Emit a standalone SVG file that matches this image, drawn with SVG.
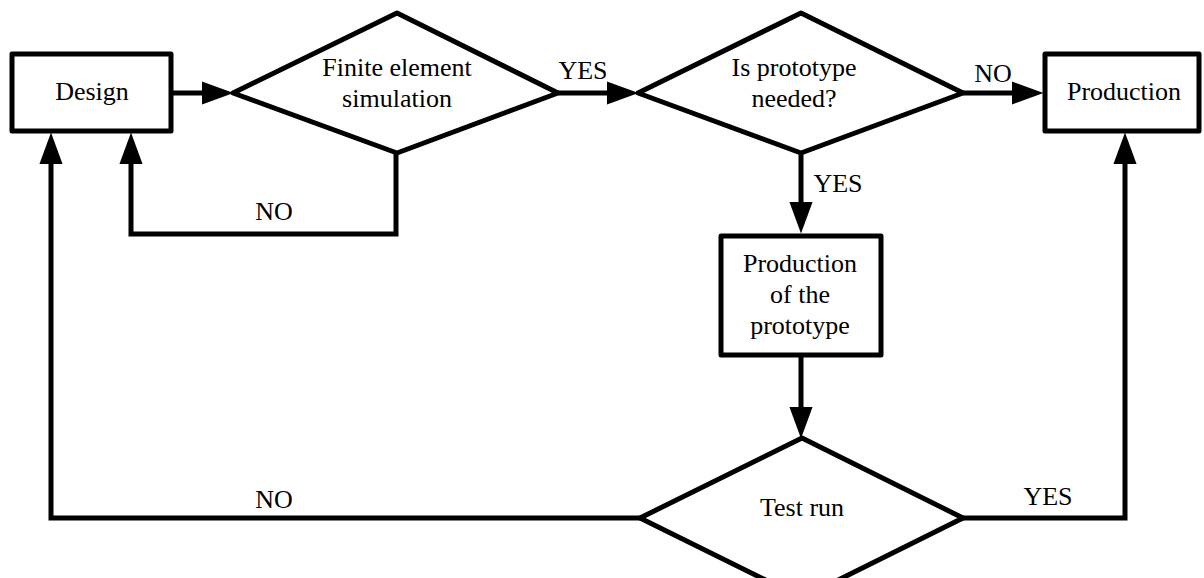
<svg xmlns="http://www.w3.org/2000/svg" width="1204" height="578" viewBox="0 0 1204 578">
  <style>
    .shape { fill: #ffffff; stroke: #000000; stroke-width: 5; stroke-linejoin: round; }
    .conn { fill: none; stroke: #000000; stroke-width: 5; stroke-linejoin: miter; }
    .lbl { font-family: "Liberation Serif", "Times New Roman", serif; font-size: 26px; fill: #000000; text-anchor: middle; }
  </style>
  <defs>
    <marker id="arrow" markerUnits="userSpaceOnUse" markerWidth="32" markerHeight="24" viewBox="0 0 30 22" refX="22" refY="11" orient="auto">
      <path d="M0,0 L30,11 L0,22 z" fill="#000000"/>
    </marker>
  </defs>
  <rect width="1204" height="578" fill="#ffffff"/>

  <g id="connectors">
    <line class="conn" x1="173" y1="93" x2="225" y2="93" marker-end="url(#arrow)"/>
    <line class="conn" x1="558" y1="93" x2="630" y2="93" marker-end="url(#arrow)"/>
    <line class="conn" x1="963" y1="93" x2="1035" y2="93" marker-end="url(#arrow)"/>
    <line class="conn" x1="801" y1="153" x2="801" y2="225" marker-end="url(#arrow)"/>
    <line class="conn" x1="801" y1="357" x2="801" y2="430" marker-end="url(#arrow)"/>
    <polyline class="conn" points="396,153 396,234 131,234 131,141" marker-end="url(#arrow)"/>
    <polyline class="conn" points="640,518 51,518 51,141" marker-end="url(#arrow)"/>
    <polyline class="conn" points="963,518 1125,518 1125,141" marker-end="url(#arrow)"/>
    <text class="lbl" x="274" y="220">NO</text>
    <text class="lbl" x="583" y="79">YES</text>
    <text class="lbl" x="993" y="82">NO</text>
    <text class="lbl" x="838" y="192">YES</text>
    <text class="lbl" x="274" y="508">NO</text>
    <text class="lbl" x="1048" y="505">YES</text>
  </g>

  <g id="design">
    <rect class="shape" x="12" y="54" width="159" height="77"/>
    <text class="lbl" x="92" y="100">Design</text>
  </g>

  <g id="fe-simulation">
    <polygon class="shape" points="233,93 397,13 558,93 397,153"/>
    <text class="lbl" x="397" y="76">Finite element</text>
    <text class="lbl" x="397" y="107">simulation</text>
  </g>

  <g id="prototype-needed">
    <polygon class="shape" points="638,93 801,13 963,93 801,153"/>
    <text class="lbl" x="794" y="76">Is prototype</text>
    <text class="lbl" x="794" y="107">needed?</text>
  </g>

  <g id="production">
    <rect class="shape" x="1045" y="54" width="154" height="77"/>
    <text class="lbl" x="1124" y="100">Production</text>
  </g>

  <g id="prototype-production">
    <rect class="shape" x="721" y="236" width="160" height="119"/>
    <text class="lbl" x="800" y="272">Production</text>
    <text class="lbl" x="800" y="303">of the</text>
    <text class="lbl" x="800" y="334">prototype</text>
  </g>

  <g id="test-run">
    <polygon class="shape" points="640,518 802,438 963,518 802,598"/>
    <text class="lbl" x="802" y="516">Test run</text>
  </g>
</svg>
